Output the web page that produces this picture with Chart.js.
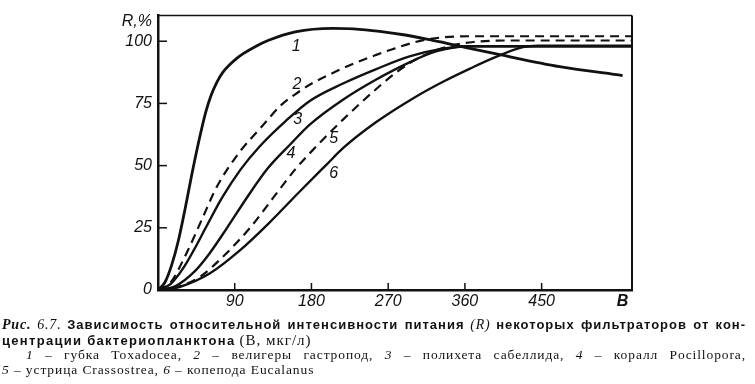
<!DOCTYPE html>
<html>
<head>
<meta charset="utf-8">
<script src="https://cdn.jsdelivr.net/npm/chart.js@4"></script>
<style>
  body { margin: 0; background: #fff; width: 755px; height: 384px; overflow: hidden; position: relative; }
  #chart { position: absolute; left: 0; top: 0; }
  .cap { position: absolute; left: 2px; top: 317px; width: 744px; color: #111; line-height: 14.7px; }
  .cap div { white-space: nowrap; }
  .cap .just { text-align: justify; text-align-last: justify; white-space: normal; }
  .sans { font-family: "Liberation Sans", Arial, sans-serif; font-weight: bold; font-size: 13px; letter-spacing: 1px; }
  .serif { font-family: "Liberation Serif", "Times New Roman", serif; font-size: 14px; letter-spacing: 0.8px; }
  .l2 .sans { letter-spacing: 1.3px; }
  .l2 .serif { font-size: 15px; letter-spacing: 1px; }
  .l3, .l4 { font-family: "Liberation Serif", "Times New Roman", serif; font-size: 13.5px; letter-spacing: 0.9px; }
  .l3 { padding-left: 24px; }
</style>
</head>
<body>
<canvas id="chart" width="755" height="316"></canvas>
<div class="cap">
  <div class="just"><span class="serif"><b><i>Рис.</i></b> <i>6.7.</i></span> <span class="sans">Зависимость относительной интенсивности питания</span> <span class="serif"><i>(R)</i></span> <span class="sans">некоторых фильтраторов от кон-</span></div>
  <div class="l2"><span class="sans">центрации бактериопланктона</span> <span class="serif">(В, мкг/л)</span></div>
  <div class="just l3"><i>1</i> – губка Toxadocea, <i>2</i> – велигеры гастропод, <i>3</i> – полихета сабеллида, <i>4</i> – коралл Pocillopora,</div>
  <div class="l4"><i>5</i> – устрица Crassostrea, <i>6</i> – копепода Eucalanus</div>
</div>
<script>
// axis ticks
const xTicks = [90, 180, 270, 360, 450];
const xEndLabel = "B";
const xEndPos = 545;
const yTicks = [0, 25, 50, 75, 100];
const yUnitLabel = "R,%";
const yUnitPos = 108;

// curves: B (мкг/л) and R (%)
const b1 = [0, 8, 16, 24, 32, 40, 48, 56, 62, 69, 76, 84, 92, 100, 115, 129, 161, 205, 229, 260, 290, 320, 350, 401, 471, 545];
const r1 = [0, 3, 10, 20, 33, 47, 60, 71.5, 78, 83.5, 87.5, 90.5, 93, 95, 98, 100.3, 103.8, 105.2, 105, 104, 102.5, 100.5, 98.3, 94.6, 89.8, 86.2];

const b2 = [0, 14, 35, 51, 69, 96, 120, 145, 164, 182, 213, 233, 256, 275, 300, 320, 366, 556];
const r2 = [0, 2.7, 15.9, 28, 41.5, 55.6, 65, 74.5, 79.4, 83.3, 88.5, 91.5, 94.5, 96.8, 99.5, 101, 102, 102];

const b3 = [0, 15, 30, 42, 56, 75, 97, 120, 150, 178, 217, 256, 295, 334, 365, 556];
const r3 = [0, 2.5, 9, 16, 25, 37, 48.5, 58, 68, 76, 83, 88.8, 93.9, 97, 98, 98];

const b4 = [0, 20, 43, 60, 81, 105, 129, 155, 178, 217, 256, 295, 327, 365, 556];
const r4 = [0, 1.5, 7.5, 14.5, 25, 37.5, 49, 58.5, 66.5, 76.5, 84.6, 91.5, 96, 98, 98];

const b5 = [0, 25, 50, 75, 108, 135, 161, 193, 217, 260, 280, 298, 315, 340, 370, 420, 556];
const r5 = [0, 1.5, 5.5, 13, 25, 37, 48.5, 60.3, 68.5, 82, 87.6, 91.8, 94.8, 97.9, 99.7, 100.3, 100.3];

const b6 = [0, 26, 61, 96, 129, 166, 198, 217, 256, 299, 336, 366, 395, 428, 445, 556];
const r6 = [0, 1.3, 6.7, 15.9, 26.5, 39.5, 50.5, 57, 67.5, 77, 84, 89, 93.5, 97.6, 98.2, 98.2];

// curve numbers written on the plot
const labelText = ["1", "2", "3", "4", "5", "6"];
const labelB = [162, 163, 164, 156, 206, 206];
const labelR = [98, 82.5, 68.7, 54.8, 60.7, 46.8];

const ink = "#111";
const tickFont = { family: "Liberation Sans", style: "italic", size: 16 };

function toPoints(bs, rs) {
  return bs.map((b, i) => ({ x: b, y: rs[i] }));
}

function curve(bs, rs, dashed, width) {
  return {
    data: toPoints(bs, rs),
    borderColor: ink,
    borderWidth: width,
    borderDash: dashed ? [9, 6] : [],
    pointRadius: 0,
    fill: false,
    cubicInterpolationMode: "monotone"
  };
}

// inward ticks, the thin top/right frame and the curve numbers
const extras = {
  id: "extras",
  afterDraw(chart) {
    const ctx = chart.ctx;
    const area = chart.chartArea;
    const xs = chart.scales.x;
    const ys = chart.scales.y;
    ctx.save();
    ctx.strokeStyle = ink;

    ctx.lineWidth = 1.5;
    ctx.beginPath();
    ctx.moveTo(area.left, area.top);
    ctx.lineTo(area.right, area.top);
    ctx.stroke();
    ctx.lineWidth = 2;
    ctx.beginPath();
    ctx.moveTo(area.right, area.top);
    ctx.lineTo(area.right, area.bottom);
    ctx.stroke();

    ctx.lineWidth = 1.5;
    xTicks.forEach(v => {
      const px = xs.getPixelForValue(v);
      ctx.beginPath();
      ctx.moveTo(px, area.bottom);
      ctx.lineTo(px, area.bottom - 7);
      ctx.stroke();
    });
    yTicks.forEach(v => {
      if (v === 0) return;
      const py = ys.getPixelForValue(v);
      ctx.beginPath();
      ctx.moveTo(area.left, py);
      ctx.lineTo(area.left + 9, py);
      ctx.stroke();
    });

    ctx.fillStyle = ink;
    ctx.font = "italic 16px 'Liberation Sans'";
    ctx.textAlign = "center";
    ctx.textBaseline = "middle";
    labelText.forEach((t, i) => {
      ctx.fillText(t, xs.getPixelForValue(labelB[i]), ys.getPixelForValue(labelR[i]));
    });
    ctx.restore();
  }
};

new Chart(document.getElementById("chart"), {
  type: "line",
  data: {
    datasets: [
      curve(b1, r1, false, 2.8),
      curve(b2, r2, true, 2.2),
      curve(b3, r3, false, 2.4),
      curve(b4, r4, false, 2.4),
      curve(b5, r5, true, 2.2),
      curve(b6, r6, false, 2.4)
    ]
  },
  options: {
    responsive: false,
    animation: false,
    layout: { padding: { left: 0, right: 123, top: 12, bottom: 6 } },
    plugins: { legend: { display: false }, tooltip: { enabled: false } },
    scales: {
      x: {
        type: "linear",
        min: 0,
        max: 556,
        grid: { display: false, drawTicks: false },
        border: { display: true, color: ink, width: 2.5 },
        afterBuildTicks: scale => {
          scale.ticks = xTicks.concat([xEndPos]).map(v => ({ value: v }));
        },
        afterFit: scale => { scale.height = 20; },
        ticks: {
          color: ink,
          padding: 2,
          maxRotation: 0,
          autoSkip: false,
          font: ctx => ctx.tick && ctx.tick.value === xEndPos
            ? { family: "Liberation Sans", style: "italic", weight: "bold", size: 16 }
            : tickFont,
          callback: v => (v === xEndPos ? xEndLabel : String(v))
        }
      },
      y: {
        type: "linear",
        min: 0,
        max: 110.3,
        grid: { display: false, drawTicks: false },
        border: { display: true, color: ink, width: 2.5 },
        afterBuildTicks: scale => {
          scale.ticks = yTicks.concat([yUnitPos]).map(v => ({ value: v }));
        },
        afterFit: scale => { scale.width = 158; },
        ticks: {
          color: ink,
          padding: 6,
          autoSkip: false,
          font: tickFont,
          callback: v => (v === yUnitPos ? yUnitLabel : String(v))
        }
      }
    }
  },
  plugins: [extras]
});
</script>
</body>
</html>
